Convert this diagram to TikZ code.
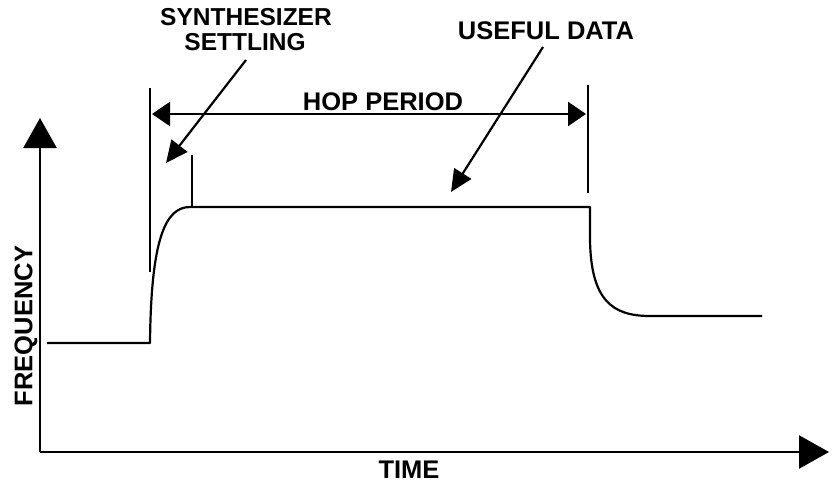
\documentclass[tikz,border=0pt]{standalone}
\usepackage{fontspec}
\setmainfont{Liberation Sans}
\usetikzlibrary{arrows.meta}
\begin{document}
\begin{tikzpicture}[x=1pt,y=-1pt,
  lbl/.style={font=\bfseries\fontsize{25.5}{26}\selectfont, inner sep=0pt},
  lblsm/.style={font=\bfseries\fontsize{24.5}{25}\selectfont, inner sep=0pt},
  axis/.style={line width=2.6pt, -{Triangle[length=30pt,width=33pt]}},
  curve/.style={line width=2.2pt},
  marker/.style={line width=2.4pt},
  span/.style={line width=2.2pt, {Triangle[length=18pt,width=24pt]}-{Triangle[length=18pt,width=24pt]}},
  callout/.style={line width=2.2pt, -{Triangle[length=22pt,width=20pt]}}]
\useasboundingbox (0,0) rectangle (840,487);
% axes
\coordinate (O) at (40,452);
\coordinate (ytop) at (40,118);
\coordinate (xend) at (829,452);
\draw[axis] (O) -- (ytop);
\draw[axis] (O) -- (xend);
% signal
\coordinate (s0) at (47,343);
\coordinate (s1) at (150,343);
\coordinate (s2) at (190,207);
\coordinate (s3) at (590,207);
\coordinate (s4) at (590,240);
\coordinate (s5) at (650,316);
\coordinate (s6) at (762,316);
\draw[curve, line join=round] (s0) -- (s1) .. controls (151,240) and (165,207) .. (s2) -- (s3) -- (s4) .. controls (591,300) and (612,316) .. (s5) -- (s6);
% markers
\coordinate (mLt) at (150,88);
\coordinate (mLb) at (150,272);
\coordinate (mSt) at (192,155);
\coordinate (mSb) at (192,207);
\coordinate (mRt) at (588,85);
\coordinate (mRb) at (588,193);
\draw[marker] (mLt) -- (mLb);
\draw[marker] (mSt) -- (mSb);
\draw[marker] (mRt) -- (mRb);
% hop period
\coordinate (hL) at (152,114);
\coordinate (hR) at (586,114);
\draw[span] (hL) -- (hR);
\node[lbl, anchor=base] (hop) at (383,110) {HOP PERIOD};
% labels
\node[lblsm, anchor=base] (synth) at (246,26) {SYNTHESIZER};
\node[lblsm, anchor=base] (settl) at (245,51) {SETTLING};
\node[lbl, anchor=base] (useful) at (546,40) {USEFUL DATA};
\node[lbl, rotate=90] (freq) at (26,326) {FREQUENCY};
\node[lbl, anchor=base] (time) at (409,478) {TIME};
% callouts
\coordinate (cS) at (246,60);
\coordinate (tS) at (166,163);
\coordinate (cU) at (543,47);
\coordinate (tU) at (451,192);
\draw[callout] (cS) -- (tS);
\draw[callout] (cU) -- (tU);
\end{tikzpicture}
\end{document}
